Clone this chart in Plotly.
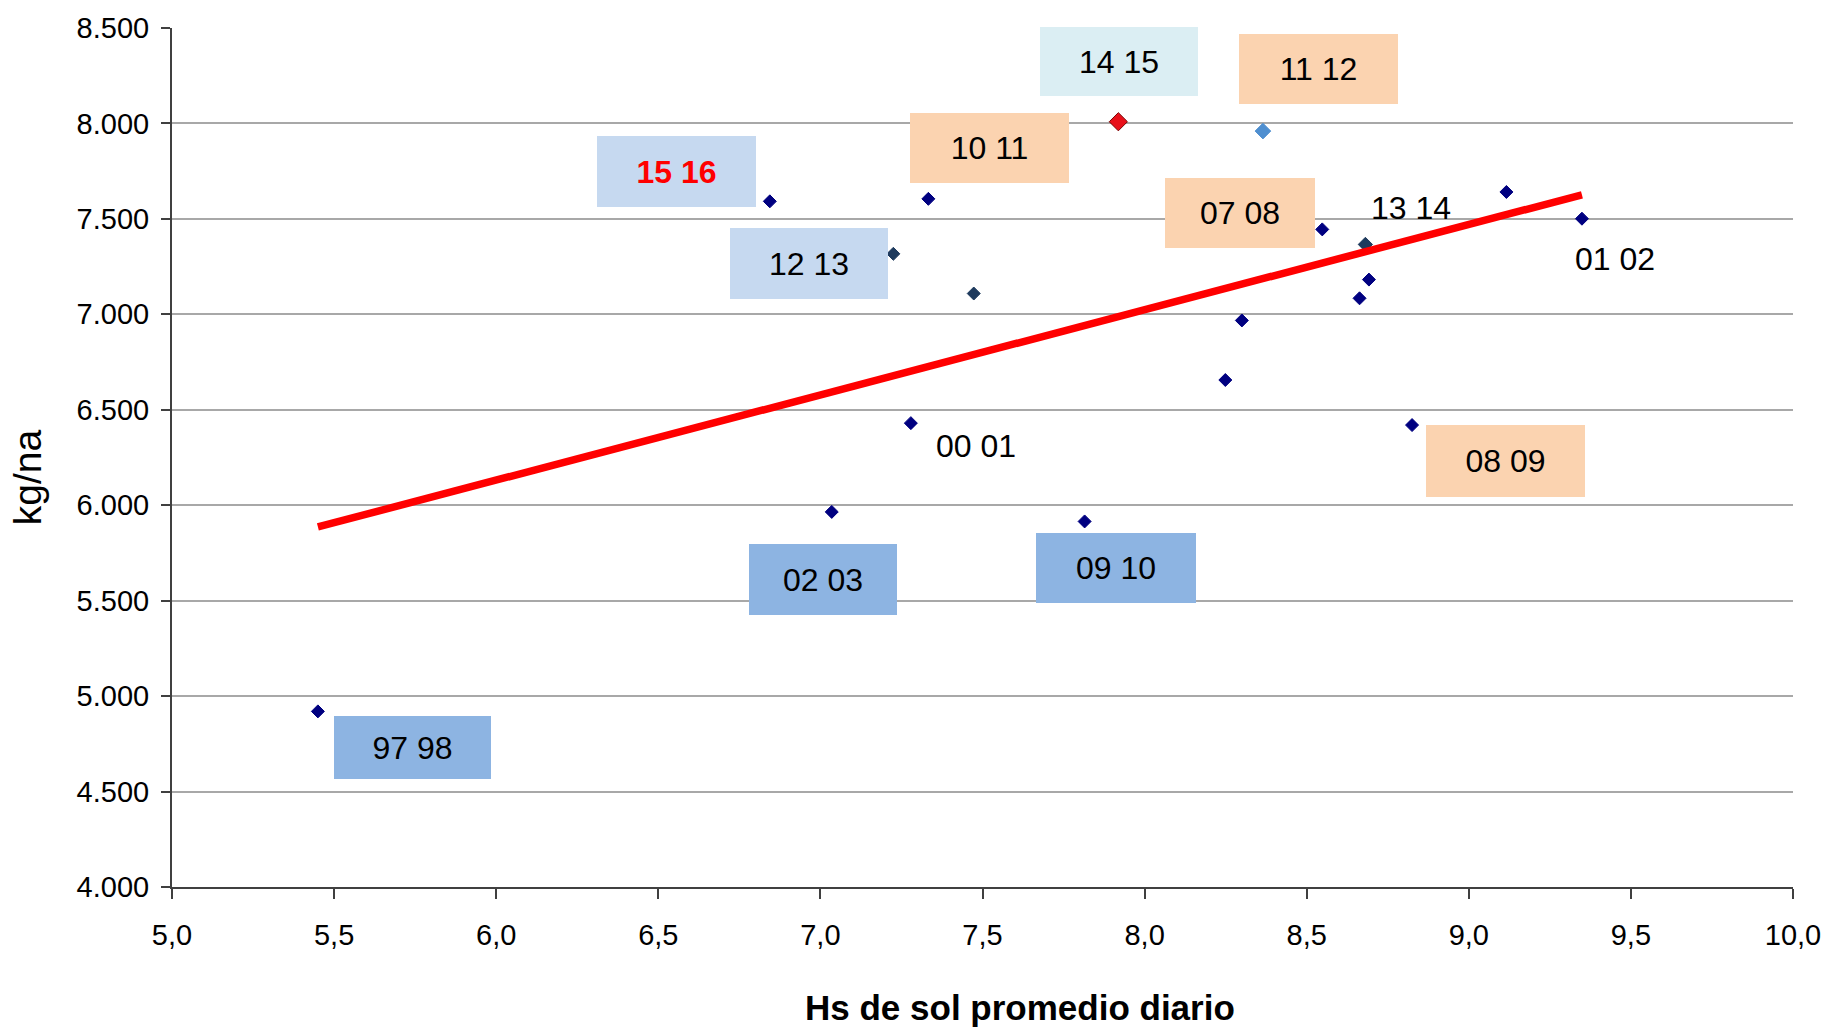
import numpy as np
import plotly.graph_objects as go

# ---------------- data ----------------
seasons = ["97 98", "98 99", "99 00", "00 01", "01 02", "02 03", "03 04", "04 05",
           "05 06", "06 07", "07 08", "08 09", "09 10", "10 11", "11 12", "12 13",
           "13 14", "14 15", "15 16"]
sun_hours = [5.45, 8.692, 9.116, 7.279, 9.349, 7.035, 8.249, 8.663,
             8.300, 7.473, 8.548, 8.825, 7.815, 7.333, 8.365, 7.225,
             8.681, 7.919, 6.844]
yield_kgha = [4920, 7182, 7641, 6430, 7501, 5965, 6656, 7084,
              6968, 7109, 7445, 6420, 5915, 7605, 7960, 7317,
              7366, 8009, 7592]
labeled = ["97 98", "00 01", "01 02", "02 03", "07 08", "08 09", "09 10",
           "10 11", "11 12", "12 13", "13 14", "14 15", "15 16"]
y_ticks = [4000, 4500, 5000, 5500, 6000, 6500, 7000, 7500, 8000, 8500]
x_ticks = [5.0, 5.5, 6.0, 6.5, 7.0, 7.5, 8.0, 8.5, 9.0, 9.5, 10.0]
x_title = "Hs de sol promedio diario"
y_title = "kg/na"

# ---------------- styles ----------------
NAVY = "#000080"
SLATE = "#1F3B5E"
marker_style = {  # season -> (color, size, line color)
    "14 15": ("#E8101A", 14, "#7A0000"),
    "11 12": ("#4F8FD0", 12, "#4F8FD0"),
    "13 14": (SLATE, 11, SLATE),
    "12 13": (SLATE, 10, SLATE),
    "06 07": (SLATE, 10, SLATE),
}
LIGHT = "#C6D9F0"
PALE = "#DBEEF3"
PEACH = "#FBD3B0"
MID = "#8DB4E2"
# season -> (xshift px, yshift px, box color, box w, box h)
label_style = {
    "15 16": (-93, 30, LIGHT, 159, 71),
    "12 13": (-84, -10, LIGHT, 158, 71),
    "14 15": (1, 60, PALE, 158, 69),
    "11 12": (56, 62, PEACH, 159, 70),
    "10 11": (61, 51, PEACH, 159, 70),
    "07 08": (-82, 16, PEACH, 150, 70),
    "08 09": (93, -36, PEACH, 159, 72),
    "02 03": (-9, -68, MID, 148, 71),
    "09 10": (31, -47, MID, 160, 70),
    "97 98": (95, -36, MID, 157, 63),
    "13 14": (46, 36, None, 90, 40),
    "00 01": (65, -23, None, 90, 40),
    "01 02": (33, -40, None, 90, 40),
}

NARROW = "Liberation Sans Narrow, Arial Narrow, Liberation Sans, Arial, sans-serif"
REG = "Liberation Sans, Arial, sans-serif"

default_style = (NAVY, 10, NAVY)
colors = [marker_style.get(s, default_style)[0] for s in seasons]
sizes = [marker_style.get(s, default_style)[1] for s in seasons]
lcolors = [marker_style.get(s, default_style)[2] for s in seasons]

fig = go.Figure()
fig.add_trace(go.Scatter(
    x=sun_hours, y=yield_kgha, mode="markers", text=seasons,
    marker=dict(symbol="diamond", color=colors, size=sizes, opacity=1,
                line=dict(color=lcolors, width=1)),
    hoverinfo="text+x+y", showlegend=False))

# linear trend (least squares), drawn over the data range
xa = np.array(sun_hours)
ya = np.array(yield_kgha)
slope, intercept = np.polyfit(xa, ya, 1)
tx = np.array([xa.min(), xa.max()])
fig.add_trace(go.Scatter(
    x=tx, y=slope * tx + intercept, mode="lines",
    line=dict(color="#FF0000", width=7.5), hoverinfo="skip", showlegend=False))

for s, xv, yv in zip(seasons, sun_hours, yield_kgha):
    if s not in labeled:
        continue
    dx, dy, bg, w, h = label_style[s]
    is_red = s == "15 16"
    fig.add_annotation(
        x=xv, y=yv, xref="x", yref="y", showarrow=False,
        xshift=dx, yshift=dy,
        text=("<b>%s</b>" % s) if is_red else s,
        font=dict(family=NARROW, size=32, color="#FF0000" if is_red else "#000000"),
        bgcolor=bg if bg else "rgba(0,0,0,0)", borderpad=0, borderwidth=0,
        width=w, height=h, align="center", valign="middle")

# axis titles
fig.add_annotation(
    x=0.5234, y=-0.14, xref="paper", yref="paper", showarrow=False,
    text="<b>%s</b>" % x_title,
    font=dict(family=NARROW, size=35, color="#000000"),
    xanchor="center", yanchor="middle")
fig.add_annotation(
    x=-0.0895, y=0.477, xref="paper", yref="paper", showarrow=False,
    text=y_title, textangle=-90,
    font=dict(family=REG, size=39, color="#000000"),
    xanchor="center", yanchor="middle")

fig.update_layout(
    width=1833, height=1028,
    margin=dict(l=172, r=35, t=28, b=141),
    paper_bgcolor="white", plot_bgcolor="white",
    separators=",.",
    xaxis=dict(range=[5, 10], tickvals=x_ticks, tickformat=".1f",
               showgrid=False, zeroline=False,
               showline=True, linecolor="#404040", linewidth=2,
               ticks="outside", ticklen=10, tickwidth=1.5, tickcolor="#404040",
               tickfont=dict(family=REG, size=29, color="#000000"),
               ticklabelstandoff=11),
    yaxis=dict(range=[4000, 8500], tickvals=y_ticks, tickformat=",d",
               showgrid=True, gridcolor="#A8A8A8", gridwidth=2,
               zeroline=False,
               showline=True, linecolor="#404040", linewidth=2,
               ticks="outside", ticklen=9, tickwidth=1.5, tickcolor="#404040",
               tickfont=dict(family=REG, size=29, color="#000000"),
               ticklabelstandoff=6),
    hovermode="closest",
)

fig.write_html("out.html", config={"displayModeBar": False},
               post_script="document.body.style.margin='0';document.body.style.overflow='hidden';")
